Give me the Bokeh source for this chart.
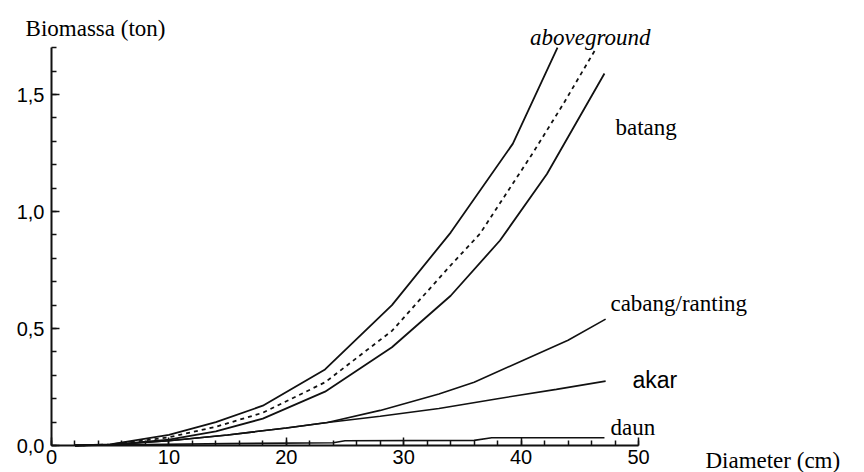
from bokeh.plotting import figure
from bokeh.models import Range1d, FixedTicker
from bokeh.embed import file_html
from bokeh.resources import INLINE
from bokeh.core.properties import value

# ---- data ----
diam_total = [2, 5, 10, 14, 18, 23.3, 29, 34, 39.3, 43.1]
total = [0, 0.005, 0.045, 0.10, 0.17, 0.325, 0.60, 0.91, 1.29, 1.70]

diam_above = [2, 5, 10, 14, 18, 23.3, 29, 34, 36.5, 41, 43.6, 46.3]
aboveground = [0, 0.004, 0.035, 0.08, 0.14, 0.27, 0.49, 0.77, 0.905, 1.25, 1.46, 1.69]

diam_batang = [2, 5, 10, 14, 18, 23.3, 29, 34, 38.2, 42.2, 47.1]
batang = [0, 0.003, 0.025, 0.06, 0.115, 0.23, 0.42, 0.64, 0.876, 1.16, 1.59]

diam_cabang = [2, 5, 10, 15, 20, 23.5, 28, 33, 36, 40, 44, 47.2]
cabang = [0, 0.003, 0.02, 0.045, 0.075, 0.098, 0.15, 0.22, 0.27, 0.36, 0.45, 0.54]

diam_akar = [2, 5, 10, 15, 20, 23.5, 28, 33, 38, 43, 47.2]
akar = [0, 0.003, 0.02, 0.045, 0.075, 0.098, 0.125, 0.158, 0.2, 0.24, 0.275]

diam_daun = [2, 8, 15, 24, 25, 36, 37.5, 47.1]
daun = [0, 0.004, 0.008, 0.012, 0.02, 0.022, 0.033, 0.033]

x_ticks = [0, 10, 20, 30, 40, 50]
y_ticks = [0, 0.5, 1.0, 1.5]
y_tick_labels = ["0,0", "0,5", "1,0", "1,5"]

# ---- figure ----
W, H = 864, 472
X0, Y0 = 51, 445          # pixel position of the origin inside the figure
PX_X = 11.74              # pixels per cm
PX_Y = 234.0              # pixels per ton
p = figure(width=W, height=H, output_backend="svg", toolbar_location=None,
           x_range=Range1d(-X0 / PX_X, (W - X0) / PX_X),
           y_range=Range1d(-(H - Y0) / PX_Y, Y0 / PX_Y),
           min_border=0)
p.outline_line_color = None
p.grid.visible = False
p.background_fill_color = "white"

ink = "#111111"

xa = p.xaxis[0]
xa.fixed_location = 0
xa.bounds = (0, 50)
xa.ticker = FixedTicker(ticks=x_ticks, minor_ticks=list(range(0, 51, 2)))
ya = p.yaxis[0]
ya.fixed_location = 0
ya.bounds = (0, 1.7)
ya.ticker = FixedTicker(ticks=y_ticks, minor_ticks=[round(i * 0.1, 1) for i in range(18)])
ya.major_label_overrides = {t: l for t, l in zip(y_ticks, y_tick_labels)}

for ax in (xa, ya):
    ax.axis_line_width = 2
    ax.axis_line_color = ink
    ax.major_tick_in = 8
    ax.major_tick_out = 0
    ax.minor_tick_in = 5
    ax.minor_tick_out = 0
    ax.major_tick_line_color = ink
    ax.minor_tick_line_color = ink
    ax.major_tick_line_width = 1.5
    ax.minor_tick_line_width = 1.5
    ax.major_label_text_font = "Liberation Sans"
    ax.major_label_text_font_size = "20px"
    ax.major_label_text_color = "black"
xa.major_label_standoff = 4
ya.major_label_standoff = 7

# ---- curves ----
lw = 1.8
p.line(diam_total, total, line_color=ink, line_width=lw)
p.line(diam_above, aboveground, line_color=ink, line_width=lw, line_dash="4 4")
p.line(diam_batang, batang, line_color=ink, line_width=lw)
p.line(diam_cabang, cabang, line_color=ink, line_width=1.6)
p.line(diam_akar, akar, line_color=ink, line_width=1.6)
p.line(diam_daun, daun, line_color=ink, line_width=1.6)

serif = value("Liberation Serif")
def txt(x, y, s, size="23px", font=serif, style="normal", align="left"):
    p.text(x=[x], y=[y], text=[s], text_font=font, text_font_size=size,
           text_font_style=style, text_align=align, text_baseline="alphabetic",
           text_color="black")

txt(-2.21, 1.782, "Biomassa (ton)", size="23px")
txt(45.9, 1.744, "aboveground", style="italic", align="center")
txt(48.04, 1.359, "batang")
txt(47.61, 0.607, "cabang/ranting")
txt(49.49, 0.282, "akar", font=value("Liberation Sans"))
txt(47.61, 0.077, "daun")
txt(55.7, -0.062, "Diameter (cm)", size="23px")

open("out.html", "w").write(file_html(p, INLINE))
